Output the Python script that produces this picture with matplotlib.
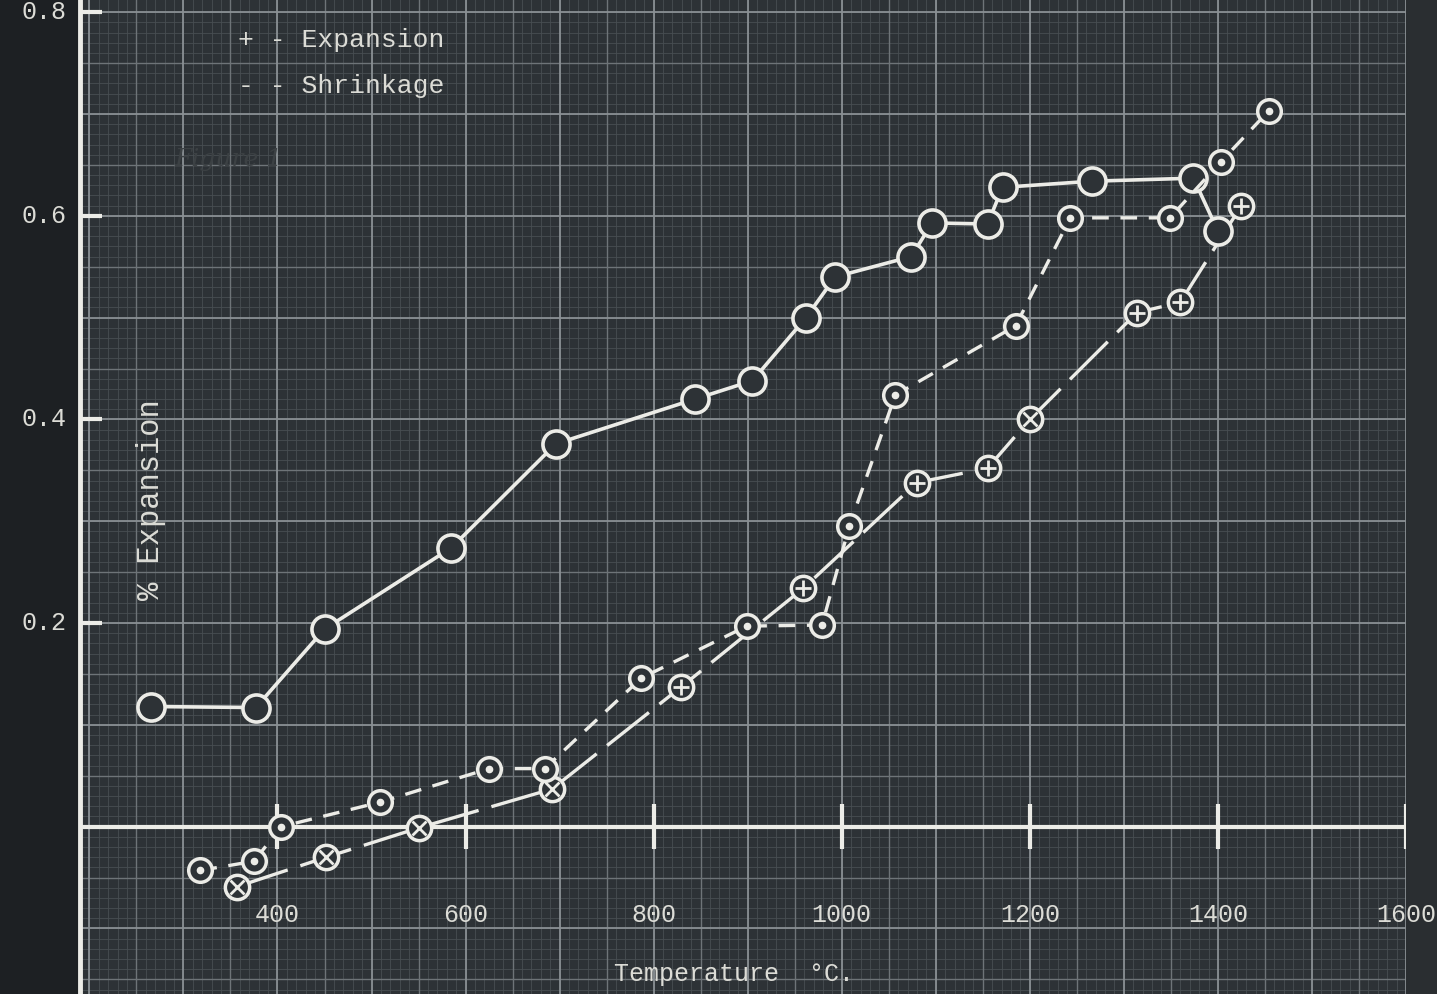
import numpy as np
import matplotlib.pyplot as plt
from matplotlib.patches import Rectangle

# plain circles, solid line
temp_a = [265, 377, 450, 585, 696, 844, 905, 962, 993, 1074, 1096, 1155, 1171, 1266, 1374, 1400]
exp_a = [0.118, 0.117, 0.194, 0.274, 0.376, 0.420, 0.438, 0.500, 0.540, 0.560, 0.593, 0.592,
         0.628, 0.634, 0.637, 0.585]

# dotted circles, short dashes
temp_b = [318, 375, 404, 509, 625, 684, 787, 899, 979, 1008, 1057, 1185, 1243, 1349, 1403, 1454]
exp_b = [-0.043, -0.034, 0.0, 0.024, 0.057, 0.057, 0.146, 0.197, 0.198, 0.295, 0.424, 0.492,
         0.598, 0.598, 0.653, 0.703]

# crossed circles, long dashes
temp_c = [357, 452, 551, 692, 829, 959, 1080, 1155, 1200, 1314, 1360, 1425]
exp_c = [-0.059, -0.030, -0.001, 0.037, 0.137, 0.234, 0.338, 0.352, 0.400, 0.505, 0.515, 0.610]
cross_c = ['x', 'x', 'x', 'x', '+', '+', '+', '+', 'x', '+', '+', '+']

x_ticks = [400, 600, 800, 1000, 1200, 1400, 1600]
x_labels = ['400', '600', '800', '1000', '1200', '1400', '1600']
y_ticks = [0.2, 0.4, 0.6, 0.8]
y_labels = ['0.2', '0.4', '0.6', '0.8']

paper = '#2d3236'
chalk = '#ecece7'
txt = '#dcdcd6'
mono = 'Liberation Mono'

fig = plt.figure(figsize=(14.37, 9.94), dpi=100, facecolor='#1d2023')
fig.patches.append(Rectangle((1406 / 1437, 0), 1, 1, transform=fig.transFigure,
                             color='#2a2e31', zorder=-1))
ax = fig.add_axes([80 / 1437, 0, 1326 / 1437, 1])
ax.set_facecolor(paper)
ax.set_xlim(190, 1600)
ax.set_ylim(-0.1644, 0.812)

# graph paper
ax.vlines(np.arange(200, 1601, 10), -1, 1, color='#484e52', lw=0.6, zorder=1)
ax.hlines(np.arange(-0.16, 0.81, 0.01), 0, 2000, color='#484e52', lw=0.6, zorder=1)
ax.vlines(np.arange(250, 1601, 100), -1, 1, color='#6e7478', lw=1.0, zorder=1)
ax.hlines(np.arange(-0.15, 0.81, 0.1), 0, 2000, color='#6e7478', lw=1.0, zorder=1)
ax.vlines(np.arange(200, 1601, 100), -1, 1, color='#8a9094', lw=1.3, zorder=1)
ax.hlines(np.arange(-0.1, 0.81, 0.1), 0, 2000, color='#8a9094', lw=1.3, zorder=1)

# axes drawn on the paper
ax.axhline(0, color=chalk, lw=3, zorder=2)
ax.vlines(x_ticks, -0.022, 0.022, color=chalk, lw=3, zorder=2)
ax.hlines(y_ticks, 190, 213, color=chalk, lw=3, zorder=2)
for s in ['top', 'right', 'bottom']:
    ax.spines[s].set_visible(False)
ax.spines['left'].set_color(chalk)
ax.spines['left'].set_linewidth(3.5)
ax.set_xticks([])
ax.set_yticks([])

for t, lab in zip(x_ticks, x_labels):
    ax.text(t, -0.087, lab, color=txt, fontsize=18, family=mono, ha='center', va='center',
            clip_on=False, zorder=7)
for v, lab in zip(y_ticks, y_labels):
    ax.text(152, v, lab, color=txt, fontsize=18, family=mono, ha='center', va='center',
            clip_on=False)

ax.text(885, -0.145, 'Temperature  °C.', color=txt, fontsize=18, family=mono,
        ha='center', va='center')
ax.text(265, 0.321, '% Expansion', color=txt, fontsize=22, family=mono, rotation=90,
        ha='center', va='center')
ax.text(358, 0.773, '+ - Expansion', color=txt, fontsize=19, family=mono, va='center')
ax.text(358, 0.728, '- - Shrinkage', color=txt, fontsize=19, family=mono, va='center')
ax.text(290, 0.655, 'Figure 1', color='#3c4144', fontsize=18, family='DejaVu Serif',
        style='italic', va='center')

# curves
ax.plot(temp_a, exp_a, color=chalk, lw=2.6, marker='o', ms=19.5, mfc=paper, mec=chalk,
        mew=2.6, zorder=4)
ax.plot(temp_b, exp_b, color=chalk, lw=2.4, dashes=(5, 3.5), marker='o', ms=17, mfc=paper,
        mec=chalk, mew=2.5, zorder=5)
ax.plot(temp_b, exp_b, ls='none', marker='o', ms=4.5, color=chalk, zorder=6)
ax.plot(temp_c, exp_c, color=chalk, lw=2.4, dashes=(16, 4), marker='o', ms=17.5, mfc=paper,
        mec=chalk, mew=2.5, zorder=3)
for m in ['x', '+']:
    tx = [t for t, c in zip(temp_c, cross_c) if c == m]
    ey = [e for e, c in zip(exp_c, cross_c) if c == m]
    ax.plot(tx, ey, ls='none', marker=m, ms=12 if m == '+' else 10, mew=2.0, color=chalk,
            zorder=3.5)

fig.savefig('out.png', dpi=100, facecolor=fig.get_facecolor())
